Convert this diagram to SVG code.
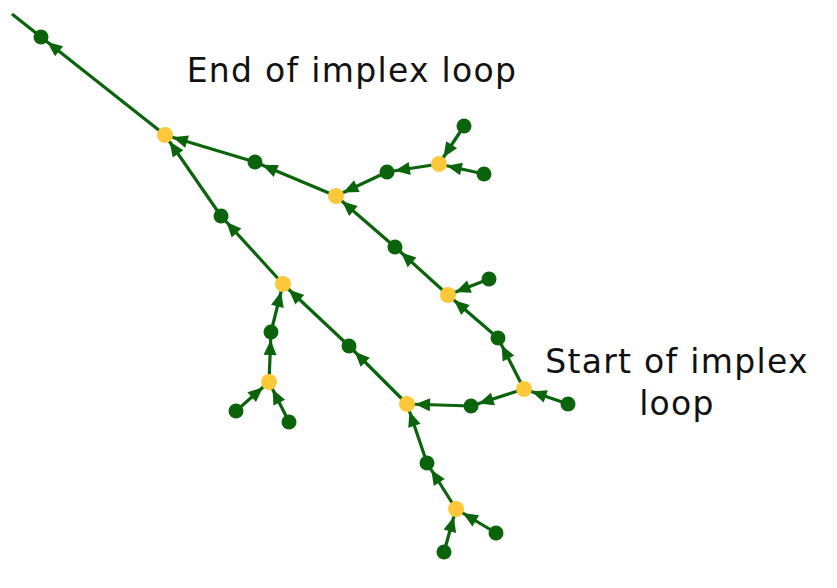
<svg xmlns="http://www.w3.org/2000/svg" width="837" height="588" viewBox="0 0 837 588">
<style>
.e{stroke:#0b640b;stroke-width:3.2;fill:none;marker-end:url(#ah)}
.g{fill:#0b640b}
.y{fill:#fdc93b}
.t{font-family:"DejaVu Sans",sans-serif;font-size:33px;fill:#111;letter-spacing:1.3px}
</style>
<defs>
<marker id="ah" viewBox="-20 -10 30 20" markerWidth="30" markerHeight="20" refX="8" refY="0" markerUnits="userSpaceOnUse" orient="auto" overflow="visible">
<path d="M0,0 L-15,-6.5 L-15,6.5 Z" fill="#0b640b"/>
</marker>
</defs>
<g id="edges">
<line x1="41" y1="37" x2="12" y2="14" style="stroke:#0b640b;stroke-width:3.2"/>
<line class="e" x1="165" y1="135" x2="41" y2="37"/>
<line class="e" x1="255" y1="162" x2="165" y2="135"/>
<line class="e" x1="336" y1="196" x2="255" y2="162"/>
<line class="e" x1="387" y1="172" x2="336" y2="196"/>
<line class="e" x1="439" y1="164" x2="387" y2="172"/>
<line class="e" x1="464" y1="126" x2="439" y2="164"/>
<line class="e" x1="484" y1="174" x2="439" y2="164"/>
<line class="e" x1="221" y1="216" x2="165" y2="135"/>
<line class="e" x1="283" y1="284" x2="221" y2="216"/>
<line class="e" x1="395" y1="247" x2="336" y2="196"/>
<line class="e" x1="448" y1="295" x2="395" y2="247"/>
<line class="e" x1="489" y1="279" x2="448" y2="295"/>
<line class="e" x1="498" y1="338" x2="448" y2="295"/>
<line class="e" x1="524" y1="389" x2="498" y2="338"/>
<line class="e" x1="568" y1="404" x2="524" y2="389"/>
<line class="e" x1="471" y1="406" x2="407" y2="404"/>
<line class="e" x1="524" y1="389" x2="471" y2="406"/>
<line class="e" x1="349" y1="346" x2="283" y2="284"/>
<line class="e" x1="407" y1="404" x2="349" y2="346"/>
<line class="e" x1="271" y1="332" x2="283" y2="284"/>
<line class="e" x1="269" y1="382" x2="271" y2="332"/>
<line class="e" x1="236" y1="411" x2="269" y2="382"/>
<line class="e" x1="289" y1="422" x2="269" y2="382"/>
<line class="e" x1="427" y1="463" x2="407" y2="404"/>
<line class="e" x1="456" y1="509" x2="427" y2="463"/>
<line class="e" x1="496" y1="533" x2="456" y2="509"/>
<line class="e" x1="444" y1="552" x2="456" y2="509"/>
</g>
<g id="n0"><circle class="g" cx="41" cy="37" r="7.5"/></g>
<g id="n1"><circle class="y" cx="165" cy="135" r="8"/></g>
<g id="n2"><circle class="g" cx="255" cy="162" r="7.5"/></g>
<g id="n3"><circle class="y" cx="336" cy="196" r="8"/></g>
<g id="n4"><circle class="g" cx="387" cy="172" r="7.5"/></g>
<g id="n5"><circle class="y" cx="439" cy="164" r="8"/></g>
<g id="n6"><circle class="g" cx="464" cy="126" r="7.5"/></g>
<g id="n7"><circle class="g" cx="484" cy="174" r="7.5"/></g>
<g id="n8"><circle class="g" cx="221" cy="216" r="7.5"/></g>
<g id="n9"><circle class="y" cx="283" cy="284" r="8"/></g>
<g id="n10"><circle class="g" cx="395" cy="247" r="7.5"/></g>
<g id="n11"><circle class="y" cx="448" cy="295" r="8"/></g>
<g id="n12"><circle class="g" cx="489" cy="279" r="7.5"/></g>
<g id="n13"><circle class="g" cx="498" cy="338" r="7.5"/></g>
<g id="n14"><circle class="y" cx="524" cy="389" r="8"/></g>
<g id="n15"><circle class="g" cx="568" cy="404" r="7.5"/></g>
<g id="n16"><circle class="g" cx="471" cy="406" r="7.5"/></g>
<g id="n17"><circle class="y" cx="407" cy="404" r="8"/></g>
<g id="n18"><circle class="g" cx="349" cy="346" r="7.5"/></g>
<g id="n19"><circle class="g" cx="271" cy="332" r="7.5"/></g>
<g id="n20"><circle class="y" cx="269" cy="382" r="8"/></g>
<g id="n21"><circle class="g" cx="236" cy="411" r="7.5"/></g>
<g id="n22"><circle class="g" cx="289" cy="422" r="7.5"/></g>
<g id="n23"><circle class="g" cx="427" cy="463" r="7.5"/></g>
<g id="n24"><circle class="y" cx="456" cy="509" r="8"/></g>
<g id="n25"><circle class="g" cx="496" cy="533" r="7.5"/></g>
<g id="n26"><circle class="g" cx="444" cy="552" r="7.5"/></g>
<g id="labels">
<text class="t" x="352" y="82" text-anchor="middle">End of implex loop</text>
<text class="t" x="677" y="373" text-anchor="middle">Start of implex</text>
<text class="t" x="677" y="415" text-anchor="middle">loop</text>
</g>
</svg>
